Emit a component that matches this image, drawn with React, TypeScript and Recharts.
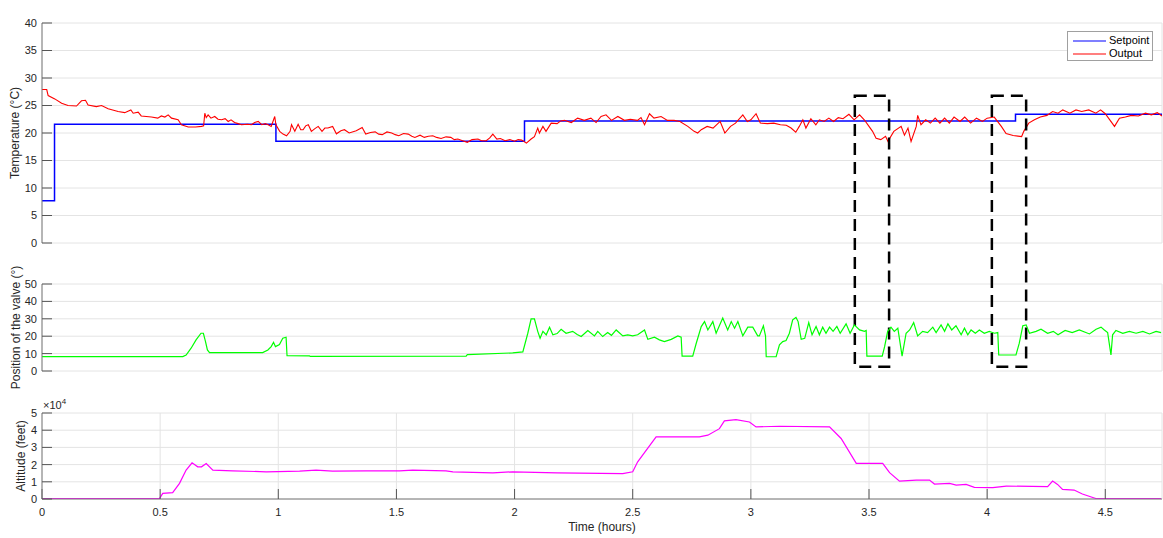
import React from 'react';
import { LineChart, Line, XAxis, YAxis, CartesianGrid, Legend, ReferenceArea } from 'recharts';

// ---------- data ----------
const xTicks = [0, 0.5, 1, 1.5, 2, 2.5, 3, 3.5, 4, 4.5];
const xDomain = [0, 4.74];
const tempTicks = [0, 5, 10, 15, 20, 25, 30, 35, 40];
const cmdTicks = [0, 10, 20, 30, 40, 50];
const altTicks = [0, 10000, 20000, 30000, 40000, 50000];
const legendOrder = ['Setpoint', 'Output'];

const setpointTime = [0, 0.053, 0.99, 2.042, 4.12, 4.74];
const setpointTemp = [7.7, 21.6, 18.5, 22.2, 23.4, 23.4];

const outputTime = [
  0, 0.02, 0.026, 0.054, 0.083, 0.11, 0.146, 0.167, 0.184, 0.195, 0.23, 0.252, 0.28, 0.322, 0.35, 0.376, 0.386, 0.407, 0.42, 0.463,
  0.49, 0.505, 0.52, 0.534, 0.548, 0.576, 0.59, 0.619, 0.65, 0.675, 0.684, 0.689, 0.695, 0.703, 0.715, 0.731, 0.745, 0.76, 0.775, 0.788,
  0.8, 0.815, 0.83, 0.844, 0.87, 0.886, 0.9, 0.915, 0.93, 0.945, 0.957, 0.97, 0.985, 0.99, 1.006, 1.02, 1.035, 1.05, 1.056, 1.07,
  1.084, 1.095, 1.105, 1.116, 1.127, 1.14, 1.155, 1.169, 1.185, 1.197, 1.21, 1.23, 1.246, 1.265, 1.28, 1.3, 1.33, 1.355, 1.37, 1.39,
  1.41, 1.425, 1.44, 1.46, 1.48, 1.495, 1.51, 1.53, 1.55, 1.565, 1.578, 1.6, 1.618, 1.635, 1.654, 1.67, 1.689, 1.71, 1.73, 1.745,
  1.76, 1.78, 1.8, 1.82, 1.845, 1.86, 1.88, 1.895, 1.908, 1.925, 1.94, 1.96, 1.98, 2.0, 2.015, 2.03, 2.05, 2.07, 2.084, 2.098,
  2.105, 2.12, 2.133, 2.155, 2.18, 2.195, 2.211, 2.24, 2.267, 2.295, 2.323, 2.345, 2.366, 2.387, 2.41, 2.437, 2.465, 2.49, 2.52, 2.535,
  2.55, 2.571, 2.59, 2.62, 2.647, 2.675, 2.7, 2.733, 2.76, 2.775, 2.79, 2.815, 2.84, 2.87, 2.89, 2.914, 2.935, 2.966, 2.985, 3.0,
  3.022, 3.04, 3.07, 3.097, 3.125, 3.15, 3.17, 3.19, 3.205, 3.22, 3.233, 3.254, 3.275, 3.29, 3.31, 3.33, 3.35, 3.37, 3.39, 3.415,
  3.437, 3.46, 3.48, 3.5, 3.515, 3.53, 3.55, 3.57, 3.58, 3.605, 3.636, 3.65, 3.665, 3.678, 3.7, 3.706, 3.72, 3.74, 3.76, 3.78,
  3.8, 3.82, 3.84, 3.86, 3.885, 3.905, 3.93, 3.955, 3.98, 4.0, 4.03, 4.06, 4.08, 4.11, 4.146, 4.155, 4.176, 4.2, 4.225, 4.253,
  4.277, 4.3, 4.32, 4.35, 4.376, 4.4, 4.43, 4.46, 4.48, 4.5, 4.539, 4.56, 4.585, 4.61, 4.64, 4.67, 4.695, 4.72, 4.74,
];
const outputTemp = [
  27.9, 27.9, 26.8, 26.2, 25.4, 25.0, 24.9, 25.85, 25.95, 25.1, 24.8, 25.0, 24.4, 23.9, 23.7, 24.2, 23.6, 23.8, 23.1, 22.9,
  22.7, 23.1, 22.9, 23.3, 22.7, 22.4, 21.5, 21.1, 21.1, 21.2, 21.3, 23.6, 22.8, 23.3, 22.7, 23.0, 22.5, 22.4, 22.6, 22.1,
  22.4, 21.9, 21.7, 21.5, 21.6, 21.5, 21.9, 22.1, 21.5, 21.7, 21.5, 21.2, 23.0, 21.5, 20.3, 19.8, 19.5, 20.3, 21.5, 20.3,
  21.6, 20.6, 20.6, 21.3, 21.5, 20.3, 20.8, 21.2, 20.3, 20.9, 20.9, 21.2, 19.85, 20.4, 20.6, 20.0, 20.4, 21.0, 19.8, 20.1,
  20.2, 19.8, 19.7, 20.2, 20.0, 19.7, 19.5, 19.9, 19.8, 19.4, 19.2, 19.6, 19.2, 19.4, 19.5, 19.2, 19.0, 19.3, 19.2, 18.8,
  18.9, 18.6, 18.3, 18.8, 18.9, 18.6, 18.6, 19.1, 19.8, 18.9, 19.0, 18.6, 18.8, 18.5, 18.8, 18.7, 18.15, 18.9, 19.35, 20.9,
  20.0, 21.2, 20.3, 21.8, 21.7, 22.2, 22.3, 21.9, 22.7, 22.3, 22.7, 21.9, 23.0, 23.3, 22.3, 23.0, 22.3, 22.5, 22.3, 22.8,
  21.5, 23.5, 22.7, 23.0, 22.3, 22.3, 22.1, 21.2, 20.3, 20.0, 20.6, 21.2, 20.9, 22.1, 20.0, 21.2, 21.8, 23.3, 22.1, 22.4,
  23.5, 21.8, 21.7, 21.8, 21.5, 21.4, 20.9, 20.15, 21.2, 22.4, 20.9, 22.6, 21.5, 22.4, 22.1, 22.7, 22.1, 22.8, 22.6, 23.4,
  22.4, 23.3, 22.4, 21.2, 20.3, 19.05, 18.8, 19.4, 18.5, 20.3, 21.2, 19.6, 20.9, 18.45, 21.2, 23.2, 21.5, 22.4, 21.8, 22.7,
  21.8, 22.7, 21.8, 22.9, 22.1, 22.9, 21.8, 22.7, 22.1, 22.7, 22.9, 21.2, 19.9, 19.55, 19.35, 20.3, 21.8, 22.4, 22.9, 23.2,
  23.9, 23.6, 24.2, 23.6, 24.2, 23.9, 24.2, 23.6, 24.2, 23.5, 21.2, 22.7, 22.9, 23.2, 23.1, 23.6, 23.3, 23.7, 23.1,
];

const commandTime = [
  0, 0.596, 0.61, 0.631, 0.652, 0.673, 0.683, 0.692, 0.7, 0.709, 0.934, 0.956, 0.97, 0.98, 0.988, 1.005, 1.019, 1.033, 1.037, 1.132,
  1.135, 1.795, 1.8, 1.992, 2.035, 2.056, 2.07, 2.084, 2.098, 2.108, 2.12, 2.134, 2.148, 2.162, 2.18, 2.197, 2.218, 2.246, 2.265, 2.282,
  2.31, 2.338, 2.352, 2.373, 2.394, 2.41, 2.43, 2.458, 2.479, 2.5, 2.521, 2.55, 2.564, 2.592, 2.613, 2.634, 2.663, 2.691, 2.705, 2.709,
  2.754, 2.768, 2.79, 2.804, 2.818, 2.839, 2.853, 2.881, 2.902, 2.917, 2.931, 2.945, 2.966, 2.987, 3.008, 3.029, 3.036, 3.053, 3.062, 3.065,
  3.107, 3.121, 3.135, 3.149, 3.163, 3.177, 3.191, 3.2, 3.213, 3.228, 3.245, 3.259, 3.276, 3.29, 3.304, 3.318, 3.333, 3.348, 3.364, 3.378,
  3.403, 3.42, 3.438, 3.46, 3.481, 3.488, 3.491, 3.556, 3.566, 3.579, 3.593, 3.607, 3.622, 3.64, 3.657, 3.672, 3.689, 3.706, 3.727, 3.748,
  3.77, 3.784, 3.805, 3.82, 3.834, 3.85, 3.868, 3.89, 3.904, 3.918, 3.932, 3.95, 3.967, 3.988, 4.009, 4.031, 4.045, 4.049, 4.122, 4.136,
  4.151, 4.165, 4.179, 4.207, 4.228, 4.256, 4.28, 4.3, 4.33, 4.36, 4.39, 4.433, 4.461, 4.482, 4.496, 4.51, 4.524, 4.531, 4.545, 4.574,
  4.602, 4.63, 4.659, 4.687, 4.715, 4.736,
];
const commandPos = [
  8.3, 8.3, 9.2, 13.1, 17.9, 21.7, 21.7, 16.9, 12.1, 10.6, 10.6, 12.1, 14.0, 16.5, 14.0, 15.2, 18.8, 19.4, 8.8, 8.7,
  8.4, 8.6, 9.4, 10.4, 11.0, 21.7, 30.0, 30.0, 22.8, 18.8, 22.8, 20.8, 25.2, 20.8, 21.5, 24.0, 21.7, 22.8, 21.0, 19.8,
  23.3, 20.2, 22.8, 19.8, 22.1, 20.5, 23.6, 20.2, 20.8, 20.2, 20.8, 23.6, 18.2, 19.4, 17.9, 16.9, 18.2, 20.2, 19.4, 8.6,
  8.6, 15.5, 25.5, 28.4, 23.6, 28.4, 21.7, 30.4, 23.6, 28.4, 24.6, 28.4, 20.2, 25.2, 25.2, 20.2, 20.2, 26.0, 20.2, 8.2,
  8.2, 15.0, 16.9, 17.5, 21.7, 29.4, 30.8, 28.4, 18.2, 18.8, 27.8, 20.8, 25.6, 20.8, 25.2, 21.7, 25.2, 22.8, 25.6, 21.7,
  27.1, 21.7, 26.5, 23.6, 22.8, 23.3, 8.6, 8.6, 14.0, 22.8, 25.2, 22.8, 24.6, 8.6, 21.7, 23.6, 27.8, 20.2, 22.8, 22.1,
  25.2, 22.1, 26.5, 22.8, 27.1, 23.6, 26.0, 20.8, 24.6, 20.8, 23.6, 21.7, 23.6, 21.7, 22.8, 21.7, 22.1, 9.2, 9.2, 16.0,
  26.0, 26.5, 21.7, 22.8, 24.0, 21.7, 22.8, 20.8, 23.3, 22.1, 23.6, 21.3, 24.0, 25.2, 23.6, 22.1, 9.2, 20.8, 23.3, 21.7,
  22.8, 21.7, 22.8, 21.3, 22.8, 22.1,
];

const altitudeTime = [
  0, 0.497, 0.511, 0.553, 0.582, 0.61, 0.635, 0.659, 0.675, 0.695, 0.723, 0.807, 0.949, 1.09, 1.16, 1.23, 1.372, 1.513, 1.569, 1.71,
  1.739, 1.908, 1.992, 2.18, 2.458, 2.5, 2.521, 2.599, 2.782, 2.818, 2.867, 2.888, 2.937, 2.994, 3.022, 3.121, 3.333, 3.382, 3.446, 3.558,
  3.587, 3.629, 3.7, 3.756, 3.777, 3.841, 3.869, 3.911, 3.946, 4.024, 4.081, 4.256, 4.277, 4.298, 4.319, 4.368, 4.403, 4.46, 4.736,
];
const altitudeFeet = [
  200, 200, 3300, 3700, 9100, 16800, 21000, 18700, 18700, 20600, 16800, 16400, 15800, 16200, 16800, 16200, 16400, 16400, 16800, 16400,
  15800, 15200, 15800, 15200, 14800, 15800, 21600, 36100, 36100, 37100, 40900, 45400, 46200, 44800, 41900, 42300, 41900, 35200, 20700, 20700,
  15300, 10400, 11000, 11000, 8700, 9100, 8100, 8500, 6800, 6600, 7500, 7200, 10400, 8500, 5600, 5200, 2900, 300, 300,
];

// highlighted windows (hours), and vertical extent in valve-position units
const boxStart = [3.44, 4.02];
const boxEnd = [3.585, 4.165];
const boxLow = 2.5;
const boxHigh = 158.2;

const rows = (ts: number[], vs: number[]) => ts.map((t, i) => ({ t, v: vs[i] }));
const setpointRows = rows(setpointTime, setpointTemp);
const outputRows = rows(outputTime, outputTemp);
const commandRows = rows(commandTime, commandPos);
const altitudeRows = rows(altitudeTime, altitudeFeet);

// ---------- styles ----------
const FONT = '"Liberation Sans", Arial, Helvetica, sans-serif';
const BOX = '#7a7a7a';
const TICKC = '#555555';
const GRID = '#e4e4e4';
const TXT = '#262626';
const W = 1163;

const tickFont = { fontSize: 11, fill: TXT, fontFamily: FONT };

const titleContent = (text: string, off: number) => (p: any) => {
  const vb = p.viewBox || {};
  return (
    <text x={vb.x + vb.width / 2} y={vb.y - off} textAnchor="middle" fontSize={12} fontWeight="bold" fill="#000" fontFamily={FONT}>
      {text}
    </text>
  );
};

const yLabelContent = (text: string, cx: number, withExp?: boolean) => (p: any) => {
  const vb = p.viewBox || {};
  const cy = vb.y + vb.height / 2;
  return (
    <g>
      <text x={cx} y={cy} transform={`rotate(-90, ${cx}, ${cy})`} textAnchor="middle" dominantBaseline="central" fontSize={12} fill={TXT} fontFamily={FONT}>
        {text}
      </text>
      {withExp ? (
        <text x={vb.x + vb.width + 1} y={vb.y - 4} fontSize={11} fill={TXT} fontFamily={FONT}>
          ×10<tspan dy={-5} fontSize={8}>4</tspan>
        </text>
      ) : null}
    </g>
  );
};

const xLabelContent = (text: string, dy: number) => (p: any) => {
  const vb = p.viewBox || {};
  return (
    <text x={vb.x + vb.width / 2} y={vb.y + dy} textAnchor="middle" fontSize={12} fill={TXT} fontFamily={FONT}>
      {text}
    </text>
  );
};

function frame(yDomain: number[], yTicks: number[], title: string, titleOff: number, yLabel: any, showX: boolean, yFmt?: (v: number) => string) {
  return [
    <CartesianGrid key="g" xAxisId="b" yAxisId="l" stroke={GRID} strokeWidth={1} />,
    <XAxis
      key="xb"
      xAxisId="b"
      dataKey="t"
      type="number"
      domain={xDomain}
      ticks={xTicks}
      interval={0}
      allowDataOverflow
      height={showX ? 39 : 0}
      tick={showX ? tickFont : false}
      tickSize={-10}
      tickMargin={19}
      axisLine={{ stroke: BOX }}
      tickLine={{ stroke: TICKC }}
      label={showX ? { content: xLabelContent('Time (hours)', 31.5) } : undefined}
    />,
    <XAxis
      key="xt"
      xAxisId="t"
      orientation="top"
      dataKey="t"
      type="number"
      domain={xDomain}
      ticks={xTicks}
      interval={0}
      allowDataOverflow
      height={0}
      tick={false}
      tickSize={-10}
      axisLine={{ stroke: BOX }}
      tickLine={{ stroke: TICKC }}
      label={{ content: titleContent(title, titleOff) }}
    />,
    <YAxis
      key="yl"
      yAxisId="l"
      type="number"
      domain={yDomain}
      ticks={yTicks}
      interval={0}
      allowDataOverflow
      width={42}
      tick={tickFont}
      tickSize={-10}
      tickMargin={15}
      tickFormatter={yFmt}
      axisLine={{ stroke: BOX }}
      tickLine={{ stroke: TICKC }}
      label={{ content: yLabel }}
    />,
    <YAxis
      key="yr"
      yAxisId="r"
      orientation="right"
      type="number"
      domain={yDomain}
      ticks={yTicks}
      interval={0}
      allowDataOverflow
      width={0}
      tick={false}
      tickSize={-10}
      axisLine={{ stroke: BOX }}
      tickLine={{ stroke: TICKC }}
    />,
  ];
}

const LegendBox = (props: any) => {
  const items = [...(props.payload || [])].sort(
    (a: any, b: any) => legendOrder.indexOf(a.value) - legendOrder.indexOf(b.value)
  );
  return (
    <div
      style={{
        width: 84,
        height: 26,
        border: '1px solid #a0a0a0',
        background: '#fff',
        paddingTop: 2,
        fontFamily: FONT,
        fontSize: 11,
        color: '#000',
        boxSizing: 'content-box',
      }}
    >
      {items.map((it: any) => (
        <div key={it.value} style={{ display: 'flex', alignItems: 'center', height: 13, paddingLeft: 5 }}>
          <svg width={33} height={4} style={{ display: 'block' }}>
            <line x1={0} x2={33} y1={2} y2={2} stroke={it.color} strokeWidth={1.2} />
          </svg>
          <span style={{ marginLeft: 3, lineHeight: '13px' }}>{it.value}</span>
        </div>
      ))}
    </div>
  );
};

export default function App() {
  return (
    <div style={{ position: 'absolute', left: 0, top: 0, width: W, height: 538, background: '#fff' }}>
      <style>{`.recharts-surface{overflow:visible}`}</style>

      <div style={{ position: 'absolute', left: 0, top: 0 }}>
        <LineChart width={W} height={260} margin={{ top: 23, right: 1, left: 0, bottom: 17 }}>
          {frame([0, 40], tempTicks, 'Setpoint Temperature vs Measured Temperature in the cockpit', 5, yLabelContent('Temperature (°C)', 15), false)}
          <Legend
            layout="vertical"
            align="center"
            verticalAlign="middle"
            content={<LegendBox />}
            wrapperStyle={{ left: 1067, top: 31, width: 86, height: 30 }}
          />
          <Line xAxisId="b" yAxisId="l" data={setpointRows} dataKey="v" name="Setpoint" type="stepAfter" stroke="#0000ff" strokeWidth={1.5} dot={false} isAnimationActive={false} />
          <Line xAxisId="b" yAxisId="l" data={outputRows} dataKey="v" name="Output" type="linear" stroke="#ff0000" strokeWidth={1.1} dot={false} isAnimationActive={false} />
        </LineChart>
      </div>

      <div style={{ position: 'absolute', left: 0, top: 260 }}>
        <LineChart width={W} height={125} margin={{ top: 24, right: 1, left: 0, bottom: 14 }}>
          {frame([0, 50], cmdTicks, 'Command', 4, yLabelContent('Position of the valve (°)', 16), false)}
          <Line xAxisId="b" yAxisId="l" data={commandRows} dataKey="v" name="Command" type="linear" stroke="#00ff00" strokeWidth={1.2} dot={false} isAnimationActive={false} />
          {boxStart.map((s, i) => (
            <ReferenceArea
              key={i}
              xAxisId="b"
              yAxisId="l"
              x1={s}
              x2={boxEnd[i]}
              y1={boxLow}
              y2={boxHigh}
              ifOverflow="visible"
              fill="none"
              fillOpacity={0}
              stroke="#000"
              strokeWidth={2.5}
              strokeDasharray="12 7"
            />
          ))}
        </LineChart>
      </div>

      <div style={{ position: 'absolute', left: 0, top: 385 }}>
        <LineChart width={W} height={153} margin={{ top: 28, right: 1, left: 0, bottom: 0 }}>
          {frame([0, 50000], altTicks, 'Altitude', 4.5, yLabelContent('Altitude (feet)', 21, true), true, (v: number) => String(v / 10000))}
          <Line xAxisId="b" yAxisId="l" data={altitudeRows} dataKey="v" name="Altitude" type="linear" stroke="#ff00ff" strokeWidth={1.2} dot={false} isAnimationActive={false} />
        </LineChart>
      </div>
    </div>
  );
}
